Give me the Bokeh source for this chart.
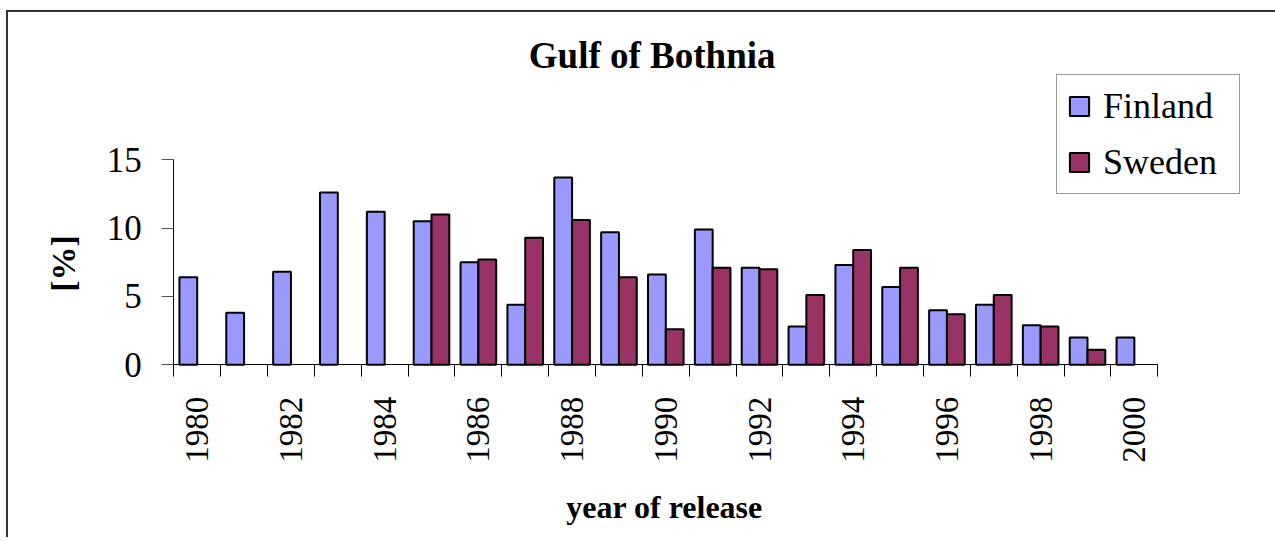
import math
from bokeh.plotting import figure
from bokeh.models import (FixedTicker, Range1d, Label, Legend, LegendItem,
                          ColumnDataSource)
from bokeh.transform import dodge
from bokeh.embed import file_html
from bokeh.resources import INLINE

# ---- data ----
years = list(range(1980, 2001))
finland = [6.4, 3.8, 6.8, 12.6, 11.2, 10.5, 7.5, 4.4, 13.7, 9.7,
           6.6, 9.9, 7.1, 2.8, 7.3, 5.7, 4.0, 4.4, 2.9, 2.0, 2.0]
sweden = [None, None, None, None, None, 11.0, 7.7, 9.3, 10.6, 6.4,
          2.6, 7.1, 7.0, 5.1, 8.4, 7.1, 3.7, 5.1, 2.8, 1.1, None]
y_ticks = [0, 5, 10, 15]
x_label_years = list(range(1980, 2001, 2))
title_text = "Gulf of Bothnia"
x_title = "year of release"
y_title = "[%]"
series_names = ["Finland", "Sweden"]

FIN_COLOR = "#9999FF"
SWE_COLOR = "#993366"
SERIF = "Liberation Serif"

fin_src = ColumnDataSource(dict(year=years, value=finland))
sw_years = [y for y, v in zip(years, sweden) if v is not None]
sw_vals = [v for v in sweden if v is not None]
swe_src = ColumnDataSource(dict(year=sw_years, value=sw_vals))

# ---- geometry (page pixels) ----
x0, x1 = years[0] - 0.5, years[-1] + 0.5
y0, y1 = 0, 15
AXIS_LEFT, AXIS_BOTTOM = 173.3, 364.3      # where (x0, 0) sits
AXIS_W, AXIS_H = 984, 205                  # size of the plotting area
FL, FT, FW, FH = 8, 12, 1267, 525          # frame covering the whole chart
px_x = AXIS_W / (x1 - x0)
px_y = AXIS_H / (y1 - y0)
x_start = x0 - (AXIS_LEFT - FL) / px_x
y_end = (AXIS_BOTTOM - FT) / px_y


def sx(page_x):
    return page_x - FL


def sy(page_y):
    return FT + FH - page_y


p = figure(frame_width=FW, frame_height=FH,
           min_border_left=0, min_border_right=0,
           min_border_top=0, min_border_bottom=0,
           x_range=Range1d(x_start, x_start + FW / px_x),
           y_range=Range1d(y_end - FH / px_y, y_end),
           output_backend="svg", toolbar_location=None,
           background_fill_color="white", border_fill_color="white")
p.styles = {"border-left": "2px solid #333333",
            "border-top": "2px solid #333333",
            "margin-left": "6px",
            "margin-top": "10px"}
p.outline_line_color = None
p.xgrid.visible = False
p.ygrid.visible = False

bw = 0.38
r_fin = p.vbar(x=dodge("year", -bw / 2, range=p.x_range), top="value", width=bw,
               source=fin_src, fill_color=FIN_COLOR, line_color="black",
               line_width=2)
r_swe = p.vbar(x=dodge("year", bw / 2, range=p.x_range), top="value", width=bw,
               source=swe_src, fill_color=SWE_COLOR, line_color="black",
               line_width=2)

# ---- x axis ----
xa = p.xaxis[0]
xa.fixed_location = 0
xa.bounds = (x0, x1)
xa.ticker = FixedTicker(ticks=x_label_years,
                        minor_ticks=[y - 0.5 for y in years] + [x1])
xa.major_tick_line_color = None
xa.major_tick_out = 12
xa.major_tick_in = 0
xa.minor_tick_out = 12
xa.minor_tick_in = 0
xa.minor_tick_line_color = "black"
xa.axis_line_color = "black"
xa.major_label_orientation = math.pi / 2
xa.major_label_text_font = SERIF
xa.major_label_text_font_size = "33px"
xa.major_label_text_color = "black"
xa.major_label_standoff = 20

# ---- y axis ----
ya = p.yaxis[0]
ya.fixed_location = x0
ya.bounds = (y0, y1)
ya.ticker = FixedTicker(ticks=y_ticks)
ya.minor_tick_line_color = None
ya.major_tick_out = 12
ya.major_tick_in = 0
ya.major_tick_line_color = "#555555"
ya.axis_line_color = "black"
ya.major_label_text_font = SERIF
ya.major_label_text_font_size = "35px"
ya.major_label_text_color = "black"
ya.major_label_standoff = 20

# ---- texts ----
p.add_layout(Label(x=sx(651.7), y=sy(55), x_units="screen", y_units="screen",
                   text=title_text, text_font=SERIF, text_font_size="37px",
                   text_font_style="bold", text_color="black",
                   text_align="center", text_baseline="middle"))
p.add_layout(Label(x=sx(664), y=sy(506), x_units="screen", y_units="screen",
                   text=x_title, text_font=SERIF, text_font_size="32px",
                   text_font_style="bold", text_color="black",
                   text_align="center", text_baseline="middle"))
p.add_layout(Label(x=sx(62.5), y=sy(263), x_units="screen", y_units="screen",
                   text=y_title, text_font=SERIF, text_font_size="34px",
                   text_font_style="bold", text_color="black", angle=math.pi / 2,
                   text_align="center", text_baseline="middle"))

# ---- legend ----
legend = Legend(items=[LegendItem(label=series_names[0], renderers=[r_fin]),
                       LegendItem(label=series_names[1], renderers=[r_swe])],
                location=(sx(1056), sy(194)))
legend.label_text_font = SERIF
legend.label_text_font_size = "36px"
legend.label_text_color = "black"
legend.glyph_width = 24
legend.glyph_height = 24
legend.label_height = 40
legend.label_width = 126
legend.label_standoff = 12
legend.spacing = 14
legend.padding = 10
legend.margin = 0
legend.border_line_color = "#333333"
legend.border_line_width = 1
legend.background_fill_color = "white"
legend.background_fill_alpha = 1
p.add_layout(legend, "center")

open("out.html", "w").write(file_html(p, INLINE))
